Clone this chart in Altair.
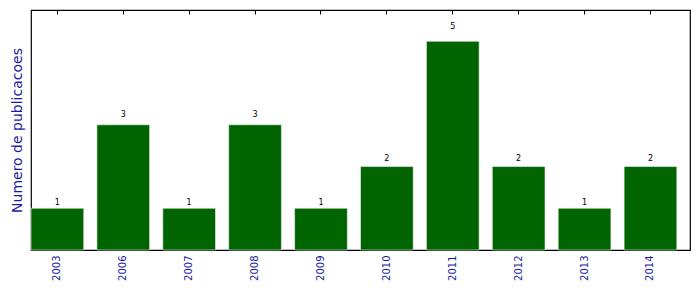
import altair as alt
import pandas as pd

years = ["2003", "2006", "2007", "2008", "2009", "2010", "2011", "2012", "2013", "2014"]
counts = [1, 3, 1, 3, 1, 2, 5, 2, 1, 2]

df = pd.DataFrame({"ano": years, "n": counts})

FONT = "DejaVu Sans"
BLUE = "#1a1aa0"

xscale = alt.Scale(paddingInner=0.2, paddingOuter=0.1, align=0)
yscale = alt.Scale(domain=[0, 5.75], nice=False, zero=True)

bars = alt.Chart(df).mark_bar(color="#006400", stroke="#f0f8f0", strokeWidth=0.6).encode(
    x=alt.X("ano:N", sort=years, scale=xscale,
            axis=alt.Axis(orient="bottom", title=None, labelAngle=-90, labelAlign="right",
                          labelBaseline="middle", labelFont=FONT, labelFontSize=10,
                          labelColor=BLUE, domain=False, ticks=True, tickSize=4,
                          tickColor="black", tickWidth=1, offset=-4, labelPadding=5,
                          grid=False)),
    y=alt.Y("n:Q", scale=yscale,
            axis=alt.Axis(title="Numero de publicacoes", labels=False, ticks=False,
                          domain=False, grid=False, titleFont=FONT, titleFontSize=14,
                          titleFontWeight="normal", titleColor=BLUE, titlePadding=7)),
)

text = alt.Chart(df).transform_calculate(
    ly="datum.n * 1.05"
).mark_text(fontSize=8, font=FONT, color="black", baseline="alphabetic",
            dy=-1.5).encode(
    x=alt.X("ano:N", sort=years, scale=xscale,
            axis=alt.Axis(orient="top", title=None, labels=False, domain=False,
                          ticks=True, tickSize=4, tickColor="black", tickWidth=1,
                          offset=-4, grid=False)),
    y=alt.Y("ly:Q", scale=yscale),
    text=alt.Text("n:Q"),
)

chart = alt.layer(bars, text).resolve_axis(x="independent").properties(
    width=659, height=240,
    autosize=alt.AutoSizeParams(type="none"),
    padding={"left": 31, "top": 10, "right": 9, "bottom": 42},
).configure(
    background="white",
    view=alt.ViewConfig(stroke="black", strokeWidth=1.2),
)

chart.save("out.html", embed_options={"renderer": "svg", "actions": False})
